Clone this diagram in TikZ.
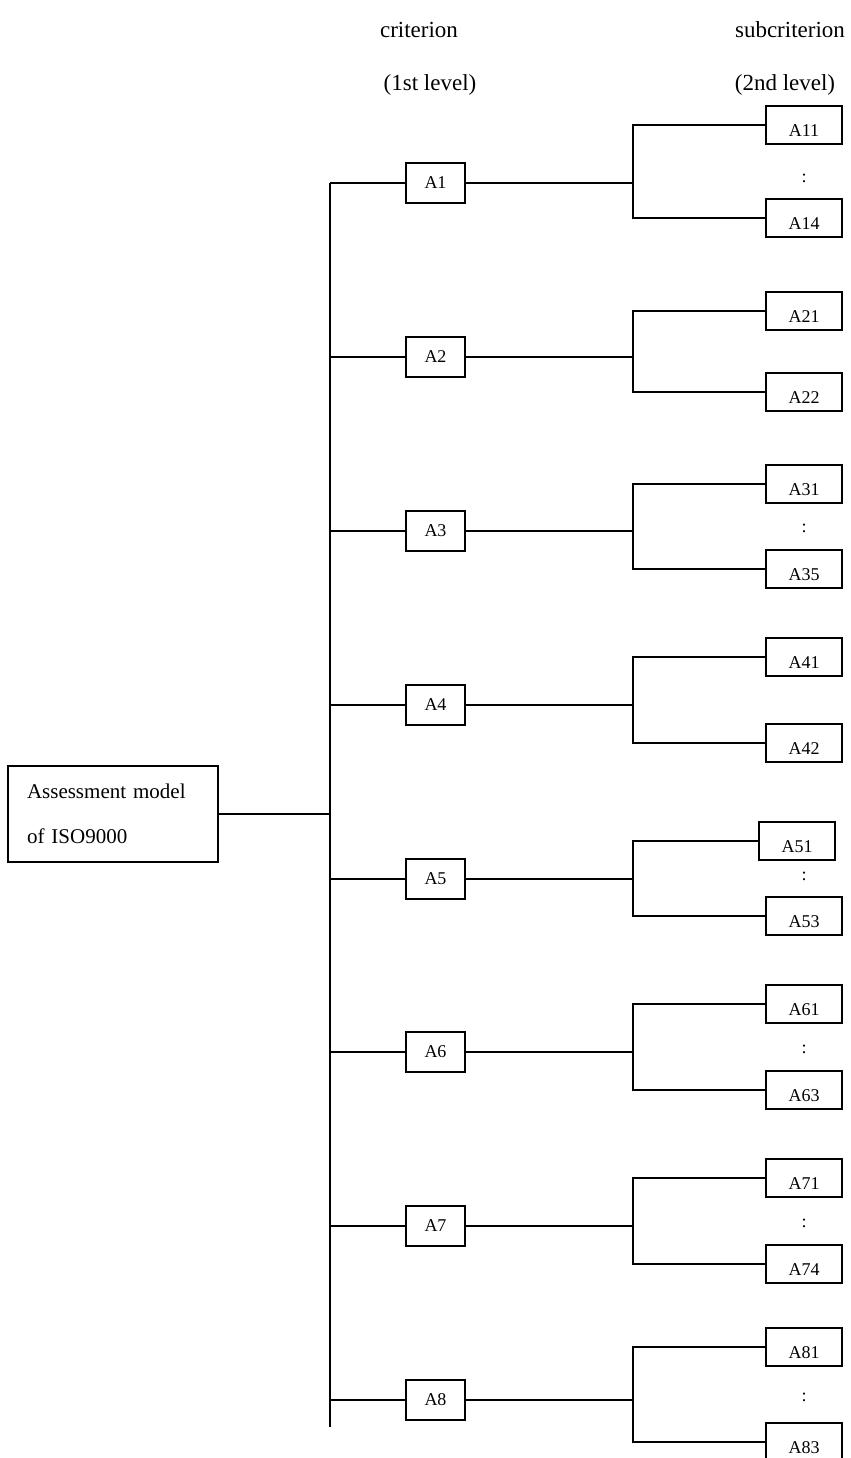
\documentclass[tikz,border=0pt]{standalone}
\usepackage{fontspec}
\setmainfont{Liberation Serif}
\begin{document}
\begin{tikzpicture}[x=0.5pt, y=-0.5pt, line width=1.2pt,
  critbox/.style={draw, minimum width=29.5pt, minimum height=20pt, inner sep=0pt, font=\fontsize{9}{11}\selectfont},
  subbox/.style={draw, minimum width=38pt, minimum height=19pt, inner sep=0pt, text height=11pt, text depth=0pt, font=\fontsize{9}{11}\selectfont},
  head/.style={font=\fontsize{11.5}{14}\selectfont},
  dots/.style={font=\fontsize{9}{11}\selectfont}]
\useasboundingbox (0,0) rectangle (851,1458);

% headers
\node[head] (h1) at (419,30) {criterion};
\node[head] (h1b) at (430,85) {(1st level)};
\node[head] (h2) at (790,30) {subcriterion};
\node[head] (h2b) at (785,85) {(2nd level)};

% root and trunk
\node[draw, align=left, text width=86pt, inner xsep=9.5pt, minimum height=48pt, font=\fontsize{10.5}{22.5}\selectfont] (root) at (113,814) {Assessment model\\of ISO9000};
\coordinate (ttop) at (330,183);
\coordinate (tbot) at (330,1427);
\draw (ttop) -- (tbot);
\draw (root) -- (root -| ttop);

% 1st level
\node[critbox] (a1) at (435.5,183) {A1};
\node[critbox] (a2) at (435.5,357) {A2};
\node[critbox] (a3) at (435.5,531) {A3};
\node[critbox] (a4) at (435.5,705) {A4};
\node[critbox] (a5) at (435.5,879) {A5};
\node[critbox] (a6) at (435.5,1052) {A6};
\node[critbox] (a7) at (435.5,1226) {A7};
\node[critbox] (a8) at (435.5,1400) {A8};

% branch points
\coordinate (b1) at (633,183);
\coordinate (b2) at (633,357);
\coordinate (b3) at (633,531);
\coordinate (b4) at (633,705);
\coordinate (b5) at (633,879);
\coordinate (b6) at (633,1052);
\coordinate (b7) at (633,1226);
\coordinate (b8) at (633,1400);

% 2nd level
\node[subbox] (a11) at (804,125) {A11};
\node[dots] (d1) at (804,178) {:};
\node[subbox] (a14) at (804,218) {A14};
\node[subbox] (a21) at (804,311) {A21};
\node[subbox] (a22) at (804,392) {A22};
\node[subbox] (a31) at (804,484) {A31};
\node[dots] (d3) at (804,528) {:};
\node[subbox] (a35) at (804,569) {A35};
\node[subbox] (a41) at (804,657) {A41};
\node[subbox] (a42) at (804,743) {A42};
\node[subbox] (a51) at (797,841) {A51};
\node[dots] (d5) at (804,876) {:};
\node[subbox] (a53) at (804,916) {A53};
\node[subbox] (a61) at (804,1004) {A61};
\node[dots] (d6) at (804,1049) {:};
\node[subbox] (a63) at (804,1090) {A63};
\node[subbox] (a71) at (804,1178) {A71};
\node[dots] (d7) at (804,1223) {:};
\node[subbox] (a74) at (804,1264) {A74};
\node[subbox] (a81) at (804,1347) {A81};
\node[dots] (d8) at (804,1397) {:};
\node[subbox] (a83) at (804,1442) {A83};

% connectors
\draw (ttop |- a1) -- (a1) -- (b1);
\draw (ttop |- a2) -- (a2) -- (b2);
\draw (ttop |- a3) -- (a3) -- (b3);
\draw (ttop |- a4) -- (a4) -- (b4);
\draw (ttop |- a5) -- (a5) -- (b5);
\draw (ttop |- a6) -- (a6) -- (b6);
\draw (ttop |- a7) -- (a7) -- (b7);
\draw (ttop |- a8) -- (a8) -- (b8);
\draw (a11.west) -| (b1) |- (a14.west);
\draw (a21.west) -| (b2) |- (a22.west);
\draw (a31.west) -| (b3) |- (a35.west);
\draw (a41.west) -| (b4) |- (a42.west);
\draw (a51.west) -| (b5) |- (a53.west);
\draw (a61.west) -| (b6) |- (a63.west);
\draw (a71.west) -| (b7) |- (a74.west);
\draw (a81.west) -| (b8) |- (a83.west);
\end{tikzpicture}
\end{document}
